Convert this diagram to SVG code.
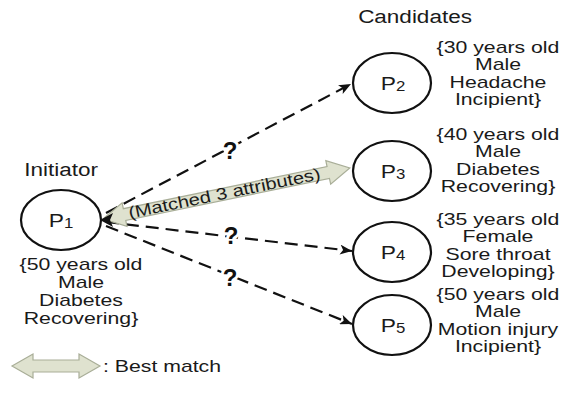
<svg xmlns="http://www.w3.org/2000/svg" width="567" height="395" viewBox="0 0 567 395">
<defs>
<style>
.t{font-family:"Liberation Sans",Arial,sans-serif;font-size:17px;fill:#1a1a1a;text-anchor:middle}
.node{fill:#fff;stroke:#111;stroke-width:2.2}
.dash{fill:none;stroke:#111;stroke-width:2.2;stroke-dasharray:13 7}
.q{font-family:"Liberation Sans",Arial,sans-serif;font-size:24px;font-weight:bold;fill:#111;text-anchor:middle;stroke:#fff;stroke-width:6;paint-order:stroke}
.big{fill:#dfe2cf;stroke:#a9ae98;stroke-width:1.2}
.sub{font-size:14px}
</style>
<marker id="ah" viewBox="0 0 12 10" refX="12" refY="5" markerWidth="13" markerHeight="10" markerUnits="userSpaceOnUse" orient="auto">
<path d="M0,0 L12,5 L0,10 L3,5 Z" fill="#111"/>
</marker>
</defs>
<rect width="567" height="395" fill="#fff"/>

<g id="headings">
<text class="t" transform="translate(415 23) scale(1.25 1)" style="font-size:18px">Candidates</text>
<text class="t" transform="translate(61 176) scale(1.25 1)" style="font-size:18px">Initiator</text>
</g>

<g id="connectors">
<line class="dash" x1="106" y1="213" x2="351" y2="84" marker-end="url(#ah)"/>
<line class="dash" x1="106" y1="222" x2="352" y2="251" marker-end="url(#ah)"/>
<line class="dash" x1="106" y1="226" x2="352" y2="324" marker-end="url(#ah)"/>
<text class="q" x="230" y="159">?</text>
<text class="q" x="231" y="244">?</text>
<text class="q" x="230" y="286">?</text>
<g id="best-match" transform="translate(103 219) rotate(-11.67)">
<polygon class="big" points="0,0 22,-12 22,-6 230,-6 230,-12 252,0 230,12 230,6 22,6 22,12"/>
<text class="t" transform="translate(124 5) scale(1.22 1)" style="font-size:16.5px">(Matched 3 attributes)</text>
</g>
<polygon points="100,220 113,213 110,220 113,227" fill="#111"/>
</g>

<g id="P1">
<ellipse class="node" cx="61" cy="220" rx="40" ry="30"/>
<text class="t" transform="translate(61 227) scale(1.2 1)" style="font-size:19px">P<tspan class="sub" dy="1">1</tspan></text>
<g transform="translate(81 0) scale(1.25 1)">
<text class="t" x="0" y="270">{50 years old</text>
<text class="t" x="0" y="288">Male</text>
<text class="t" x="0" y="306">Diabetes</text>
<text class="t" x="0" y="324">Recovering}</text>
</g>
</g>

<g id="P2">
<ellipse class="node" cx="392" cy="83" rx="39" ry="30"/>
<text class="t" transform="translate(393 90) scale(1.2 1)" style="font-size:19px">P<tspan class="sub" dy="1">2</tspan></text>
<g transform="translate(498 0) scale(1.25 1)">
<text class="t" x="0" y="53">{30 years old</text>
<text class="t" x="0" y="70.5">Male</text>
<text class="t" x="0" y="88">Headache</text>
<text class="t" x="0" y="105.5">Incipient}</text>
</g>
</g>

<g id="P3">
<ellipse class="node" cx="392" cy="171" rx="39" ry="30"/>
<text class="t" transform="translate(393 178) scale(1.2 1)" style="font-size:19px">P<tspan class="sub" dy="1">3</tspan></text>
<g transform="translate(498 0) scale(1.25 1)">
<text class="t" x="0" y="140">{40 years old</text>
<text class="t" x="0" y="157.5">Male</text>
<text class="t" x="0" y="175">Diabetes</text>
<text class="t" x="0" y="192.5">Recovering}</text>
</g>
</g>

<g id="P4">
<ellipse class="node" cx="392" cy="252" rx="39" ry="30"/>
<text class="t" transform="translate(393 259) scale(1.2 1)" style="font-size:19px">P<tspan class="sub" dy="1">4</tspan></text>
<g transform="translate(498 0) scale(1.25 1)">
<text class="t" x="0" y="225">{35 years old</text>
<text class="t" x="0" y="242.5">Female</text>
<text class="t" x="0" y="260">Sore throat</text>
<text class="t" x="0" y="277.5">Developing}</text>
</g>
</g>

<g id="P5">
<ellipse class="node" cx="392" cy="325" rx="39" ry="30"/>
<text class="t" transform="translate(393 332) scale(1.2 1)" style="font-size:19px">P<tspan class="sub" dy="1">5</tspan></text>
<g transform="translate(498 0) scale(1.25 1)">
<text class="t" x="0" y="300">{50 years old</text>
<text class="t" x="0" y="317.5">Male</text>
<text class="t" x="0" y="335">Motion injury</text>
<text class="t" x="0" y="352.5">Incipient}</text>
</g>
</g>

<g id="legend">
<polygon class="big" points="12,366 33,354 33,360 79,360 79,354 100,366 79,378 79,372 33,372 33,378"/>
<text class="t" transform="translate(103 372) scale(1.25 1)" style="text-anchor:start">: Best match</text>
</g>
</svg>
